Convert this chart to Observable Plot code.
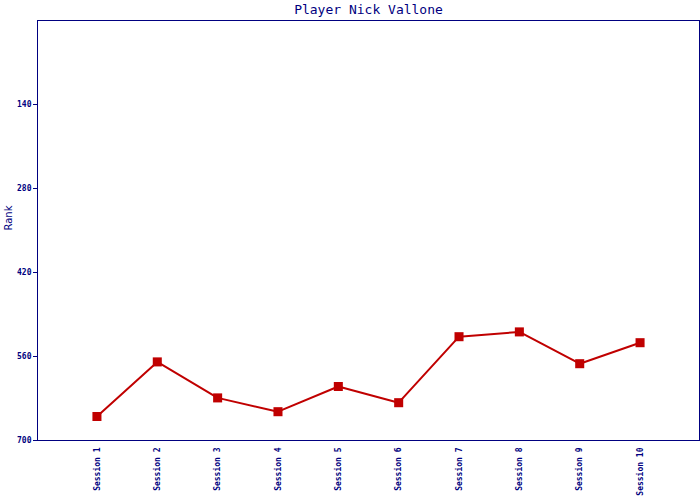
<!DOCTYPE html>
<html>
<head>
<meta charset="utf-8">
<script src="https://cdn.jsdelivr.net/npm/d3@7"></script>
<script src="https://cdn.jsdelivr.net/npm/@observablehq/plot@0.6"></script>
<style>
  body { margin: 0; background: #fff; }
  svg { display: block; }
</style>
</head>
<body>
<div id="chart"></div>
<script>
const title = "Player Nick Vallone";
const yLabel = "Rank";
const sessions = ["Session 1","Session 2","Session 3","Session 4","Session 5","Session 6","Session 7","Session 8","Session 9","Session 10"];
const ranks = [660, 569, 629, 652, 610, 637, 527, 519, 572, 537];
const yTicks = [140, 280, 420, 560, 700];

const data = sessions.map((s, i) => ({session: s, rank: ranks[i]}));
const navy = "#000080";
const red = "#c00000";

const chart = Plot.plot({
  width: 700,
  height: 500,
  marginTop: 20,
  marginBottom: 60,
  marginLeft: 37,
  marginRight: 1,
  style: {background: "#fff", fontFamily: "DejaVu Sans Mono, monospace", color: navy},
  x: {type: "point", domain: sessions, padding: 0.985, round: false, label: null},
  y: {domain: [0, 700], reverse: true, label: null},
  marks: [
    Plot.frame({stroke: navy, strokeWidth: 1}),
    Plot.axisY({ticks: yTicks, tickSize: 4, tickPadding: 2, fontSize: 8, fontWeight: "bold", stroke: navy, fill: navy, label: null}),
    Plot.axisX({tickSize: 0, tickRotate: -90, tickPadding: 7, fontSize: 8, fontWeight: "bold", fill: navy, label: null}),
    Plot.text([yLabel], {frameAnchor: "left", dx: -29, rotate: -90, fontSize: 10, fill: navy, fontFamily: "DejaVu Sans, sans-serif"}),
    Plot.text([title], {frameAnchor: "top", lineAnchor: "middle", dy: -11, fontSize: 13, fill: navy, fontFamily: "DejaVu Sans Mono, monospace"}),
    Plot.line(data, {x: "session", y: "rank", stroke: red, strokeWidth: 2}),
    Plot.dot(data, {x: "session", y: "rank", symbol: "square", r: 5.1, fill: red, stroke: "none"})
  ]
});
document.getElementById("chart").appendChild(chart);
</script>
</body>
</html>
